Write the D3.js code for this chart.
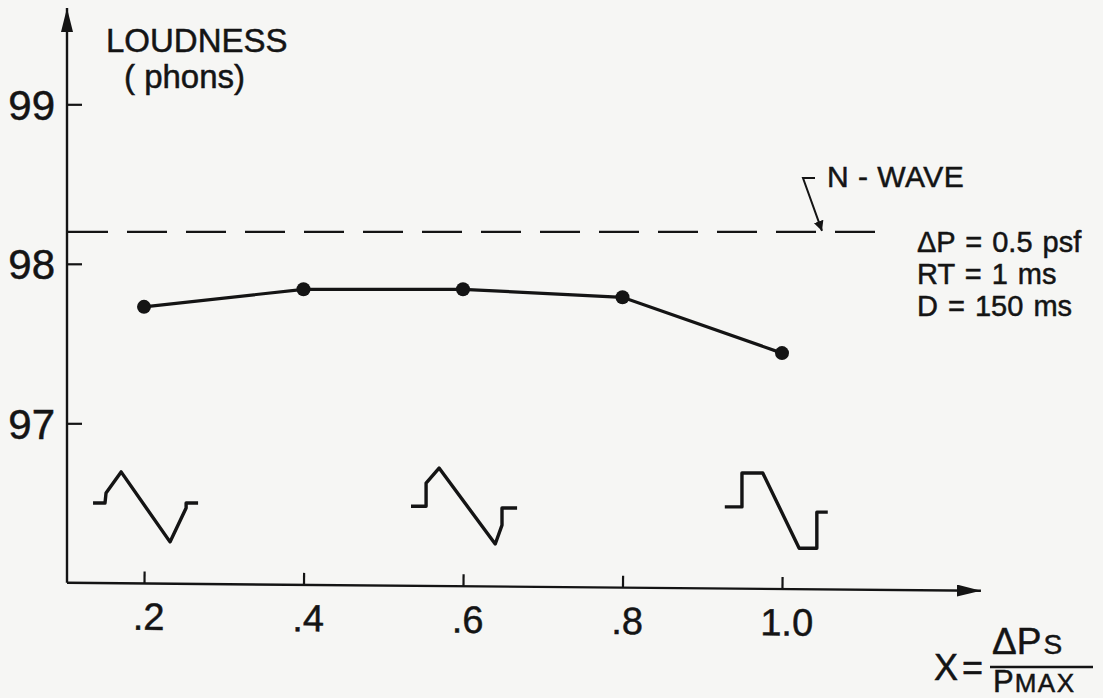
<!DOCTYPE html>
<html>
<head>
<meta charset="utf-8">
<script src="https://cdn.jsdelivr.net/npm/d3@7"></script>
<style>
  html, body { margin: 0; padding: 0; background: #f6f6f4; }
  svg { display: block; }
  text { font-family: "Liberation Sans", Arial, sans-serif; fill: #141414; stroke: #141414; stroke-width: 0.5px; }
</style>
</head>
<body>
<svg id="chart" width="1103" height="698"></svg>
<script>
// Pressure ratio X = ΔPs / Pmax
const xValues = [0.2, 0.4, 0.6, 0.8, 1.0];
// Loudness (phons) for each ratio
const loudness = [97.73, 97.84, 97.84, 97.79, 97.44];
// Reference N-wave loudness
const nWaveLoudness = 98.2;

const xTickValues = [0.2, 0.4, 0.6, 0.8, 1.0];
const xTickLabels = [".2", ".4", ".6", ".8", "1.0"];
const yTickValues = [97, 98, 99];
const yTickLabels = ["97", "98", "99"];

// Waveform sketches: normalized time t, pressure p (positive = overpressure)
const waveX = [0.2, 0.6, 1.0];
const waveT = [
  [-0.98, -0.75, -0.73, -0.44, 0.50, 0.81, 0.81, 1.04],
  [-1.00, -0.71, -0.71, -0.46, 0.62, 0.75, 0.75, 1.04],
  [-1.10, -0.77, -0.77, -0.37, 0.33, 0.67, 0.67, 0.88]
];
const waveP = [
  [0, 0, 0.29, 0.89, -1.11, -0.14, 0, 0],
  [-0.09, -0.09, 0.57, 1.0, -1.17, -0.63, -0.14, -0.14],
  [-0.11, -0.11, 0.86, 0.86, -1.29, -1.29, -0.26, -0.26]
];
const waveBaseline = 96.5;

const conditions = ["ΔP = 0.5 psf", "RT = 1 ms", "D = 150 ms"];

const ink = "#141414";
const svg = d3.select("#chart");

const x = d3.scaleLinear().domain([0.2, 1.0]).range([144, 782]);
const y = d3.scaleLinear().domain([97, 99]).range([423.3, 104.3]);
const axisX0 = 67;
const axisY0 = y(96);

// Arrowheads
const defs = svg.append("defs");
defs.append("marker")
  .attr("id", "arrow")
  .attr("viewBox", "0 0 10 10")
  .attr("refX", 10).attr("refY", 5)
  .attr("markerWidth", 10).attr("markerHeight", 10)
  .attr("markerUnits", "userSpaceOnUse")
  .attr("orient", "auto")
  .append("path").attr("d", "M0,0 L10,5 L0,10 Z").attr("fill", ink);

defs.append("marker")
  .attr("id", "axisArrow")
  .attr("viewBox", "0 0 24 12")
  .attr("refX", 24).attr("refY", 6)
  .attr("markerWidth", 24).attr("markerHeight", 12)
  .attr("markerUnits", "userSpaceOnUse")
  .attr("orient", "auto")
  .append("path").attr("d", "M0,0 L24,6 L0,12 Z").attr("fill", ink);

// Y axis
const yAxis = d3.axisLeft(y)
  .tickValues(yTickValues)
  .tickFormat((d, i) => yTickLabels[i])
  .tickSize(-15)
  .tickPadding(12);
const gy = svg.append("g").attr("transform", `translate(${axisX0},0)`).call(yAxis);
gy.select(".domain").remove();
gy.selectAll(".tick line").attr("stroke", ink).attr("stroke-width", 2.2);
gy.selectAll(".tick text")
  .style("font-size", "42px")
  .attr("dy", "0.36em")
  .attr("fill", ink);
svg.append("line")
  .attr("x1", axisX0).attr("x2", axisX0)
  .attr("y1", axisY0).attr("y2", 8)
  .attr("stroke", ink).attr("stroke-width", 2.4)
  .attr("marker-end", "url(#axisArrow)");

// X axis (slightly tilted, as lettered)
const gxWrap = svg.append("g").attr("transform", `rotate(0.5, ${axisX0}, ${axisY0})`);
const xAxis = d3.axisBottom(x)
  .tickValues(xTickValues)
  .tickFormat((d, i) => xTickLabels[i])
  .tickSize(-12)
  .tickPadding(16);
const gx = gxWrap.append("g").attr("transform", `translate(0,${axisY0})`).call(xAxis);
gx.select(".domain").remove();
gx.selectAll(".tick line").attr("stroke", ink).attr("stroke-width", 2.2);
gx.selectAll(".tick text")
  .style("font-size", "38px")
  .attr("dy", "0.8em")
  .attr("dx", "0.12em")
  .attr("fill", ink);
gxWrap.append("line")
  .attr("x1", axisX0).attr("x2", 981)
  .attr("y1", axisY0).attr("y2", axisY0)
  .attr("stroke", ink).attr("stroke-width", 2.4)
  .attr("marker-end", "url(#axisArrow)");

// Y axis title
svg.append("text").attr("x", 106).attr("y", 52)
  .style("font-size", "33px").text("LOUDNESS");
svg.append("text").attr("x", 124).attr("y", 88)
  .style("font-size", "33px").text("( phons)");

// N-wave reference line
svg.append("line")
  .attr("x1", axisX0 + 1).attr("x2", 887)
  .attr("y1", y(nWaveLoudness)).attr("y2", y(nWaveLoudness))
  .attr("stroke", ink).attr("stroke-width", 2.2)
  .attr("stroke-dasharray", "40 19");

// N-wave label and leader
svg.append("text").attr("x", 827).attr("y", 187)
  .style("font-size", "30px").attr("letter-spacing", "0.5px")
  .text("N - WAVE");
svg.append("path")
  .attr("d", "M815,178 L803,178 L822," + (y(nWaveLoudness) - 1))
  .attr("fill", "none").attr("stroke", ink).attr("stroke-width", 2)
  .attr("marker-end", "url(#arrow)");

// Test conditions
conditions.forEach((c, i) => {
  svg.append("text").attr("x", 917).attr("y", 252 + i * 32)
    .style("font-size", "29px").attr("word-spacing", "2px").text(c);
});

// Loudness curve
const pts = xValues.map((v, i) => [x(v), y(loudness[i])]);
svg.append("path")
  .attr("d", d3.line()(pts))
  .attr("fill", "none").attr("stroke", ink).attr("stroke-width", 3.2);
svg.selectAll("circle.pt").data(pts).join("circle")
  .attr("class", "pt")
  .attr("cx", d => d[0]).attr("cy", d => d[1]).attr("r", 7)
  .attr("fill", ink);

// Waveform sketches
const tScale = d3.scaleLinear().domain([-1, 1]).range([-52, 52]);
const pScale = d3.scaleLinear().domain([-1, 1]).range([35, -35]);
waveX.forEach((xv, k) => {
  const g = svg.append("g")
    .attr("transform", `translate(${x(xv)},${y(waveBaseline)})`);
  const wp = waveT[k].map((t, j) => [tScale(t), pScale(waveP[k][j])]);
  g.append("path").attr("d", d3.line()(wp))
    .attr("fill", "none").attr("stroke", ink)
    .attr("stroke-width", 3.4).attr("stroke-linejoin", "round");
});

// X axis title: X = ΔPs / Pmax
const lab = svg.append("g");
lab.append("text").attr("x", 934).attr("y", 680)
  .style("font-size", "36px").text("X");
lab.append("text").attr("x", 962).attr("y", 680)
  .style("font-size", "36px").text("=");
const num = lab.append("text").attr("x", 992).attr("y", 654).style("font-size", "37px");
num.append("tspan").text("ΔP");
num.append("tspan").attr("dx", 2).style("font-size", "28px").text("S");
lab.append("line").attr("x1", 990).attr("x2", 1093)
  .attr("y1", 667).attr("y2", 667)
  .attr("stroke", ink).attr("stroke-width", 2.6);
const den = lab.append("text").attr("x", 993).attr("y", 692).style("font-size", "31px");
den.append("tspan").text("P");
den.append("tspan").attr("dx", 1).style("font-size", "26px").attr("letter-spacing", "1.5px").text("MAX");
</script>
</body>
</html>
